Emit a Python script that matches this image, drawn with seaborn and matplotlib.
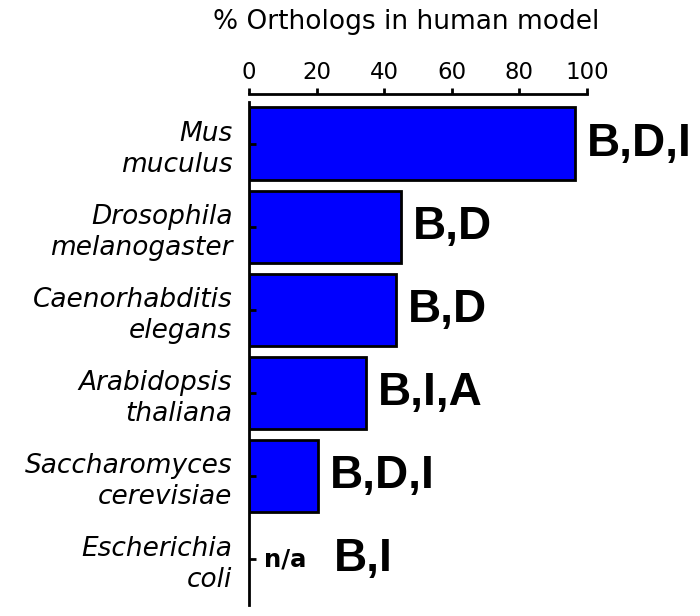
import numpy as np
import pandas as pd
import matplotlib
matplotlib.use("Agg")
import matplotlib.pyplot as plt
import seaborn as sns

# dados do gráfico
species = ["Mus\nmuculus", "Drosophila\nmelanogaster", "Caenorhabditis\nelegans",
           "Arabidopsis\nthaliana", "Saccharomyces\ncerevisiae", "Escherichia\ncoli"]
pct_orthologs = [96.5, 45.0, 43.5, 34.5, 20.5, np.nan]
codes = ["B,D,I", "B,D", "B,D", "B,I,A", "B,D,I", "B,I"]

df = pd.DataFrame({"species": species, "pct": pct_orthologs, "codes": codes})

sns.set_style("ticks")
plt.rcParams["font.family"] = ["DejaVu Sans"]
plt.rcParams["text.color"] = "black"
plt.rcParams["axes.edgecolor"] = "black"
plt.rcParams["xtick.color"] = "black"
plt.rcParams["ytick.color"] = "black"
plt.rcParams["axes.labelcolor"] = "black"

fig = plt.figure(figsize=(7, 6.16), dpi=100)
ax = fig.add_axes([249 / 700, 1 - 601 / 616, 338 / 700, 499 / 616])

sns.barplot(data=df, y="species", x="pct", orient="h", color="#0000ff",
            saturation=1, edgecolor="black", linewidth=2, width=0.87, ax=ax,
            errorbar=None)
ax.set_axisbelow(False)

ax.set_xlim(0, 100)
ax.set_ylim(5.5, -0.5)

# eixo x em cima, afastado das barras
ax.xaxis.tick_top()
ax.xaxis.set_label_position("top")
ax.set_xticks([0, 20, 40, 60, 80, 100])
ax.tick_params(axis="x", direction="out", length=4, width=2, pad=3,
               labelsize=16.5)
ax.tick_params(axis="y", direction="in", length=5, width=2, pad=12,
               labelsize=19)
for lab in ax.get_yticklabels():
    lab.set_fontstyle("italic")
    lab.set_linespacing(1.25)
    lab.set_horizontalalignment("right")

for side in ["right", "bottom"]:
    ax.spines[side].set_visible(False)
ax.spines["top"].set_position(("outward", 6))
ax.spines["top"].set_linewidth(2)
ax.spines["left"].set_linewidth(2)
ax.spines["left"].set_bounds(-0.5, 5.55)

ax.set_xlabel("% Orthologs in human model", fontsize=19, labelpad=12)
ax.xaxis.set_label_coords(0.464, 1.0 + 73 / 499)
ax.set_ylabel("")

# rótulos das barras
for i, row in df.iterrows():
    if np.isnan(row["pct"]):
        ax.text(4.5, i, "n/a", fontsize=17.5, fontweight="bold", va="center", ha="left")
        ax.text(25, i, row["codes"], fontsize=33, fontweight="bold",
                family="Liberation Sans", va="center", ha="left")
    else:
        ax.text(row["pct"] + 3.5, i, row["codes"], fontsize=33, fontweight="bold",
                family="Liberation Sans", va="center", ha="left")

plt.savefig("out.png", dpi=100)
plt.close()
